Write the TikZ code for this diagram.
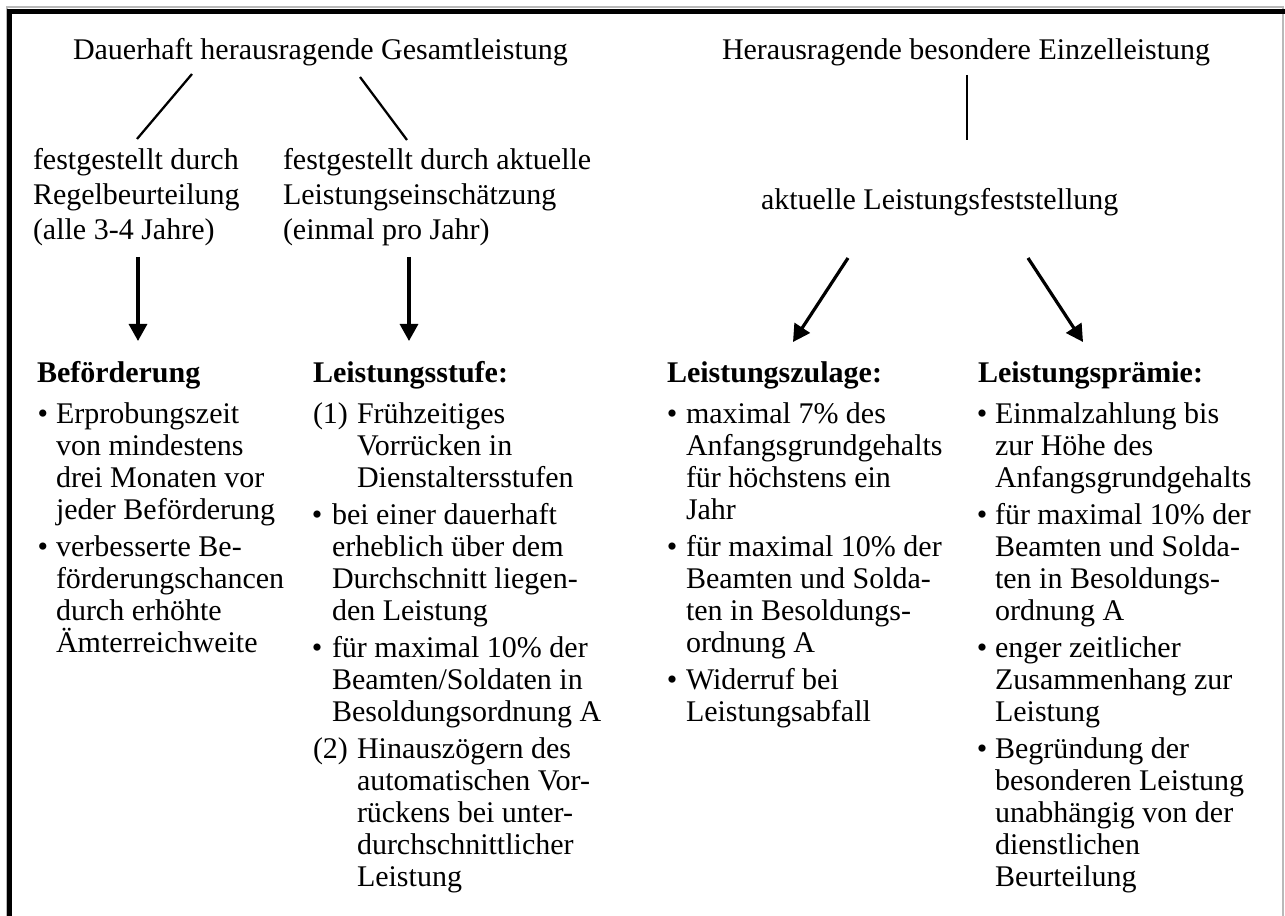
\documentclass[tikz,border=0pt]{standalone}
\usepackage{fontspec}
\setmainfont{Liberation Serif}
\usepackage{varwidth}
\usetikzlibrary{arrows.meta}
\newcommand\bodyf{\fontsize{22.5}{24}\selectfont}
\newcommand\topf{\fontsize{22.5}{26.25}\selectfont}
\newcommand\lns[1]{\begin{varwidth}[t]{20cm}\lineskiplimit=-40pt\raggedright #1\end{varwidth}}
\tikzset{
  body/.style={anchor=base west, inner sep=0pt, outer sep=0pt, font=\bodyf},
  head/.style={anchor=base west, inner sep=0pt, outer sep=0pt, font=\bodyf\bfseries},
  bul/.style={anchor=base, inner sep=0pt, outer sep=0pt, font=\bodyf},
  toptxt/.style={anchor=base west, inner sep=0pt, outer sep=0pt, font=\topf},
  ln/.style={line width=1.7pt},
  arr/.style={line width=2.4pt, -{Triangle[width=13.5pt,length=12.75pt]}},
}
\begin{document}
\begin{tikzpicture}[x=0.75pt,y=-0.75pt]
\useasboundingbox (0,0) rectangle (1285,916);
% frame
\draw[gray!55, line width=0.8pt] (7,916) -- (7,7) -- (1283,7) -- (1283,916);
\draw[black, line width=3.5pt] (9.5,916) -- (9.5,11.5) -- (1285,11.5);

% top texts
\node[toptxt] (t1) at (73,60) {Dauerhaft herausragende Gesamtleistung};
\node[toptxt] (t2) at (722,60) {Herausragende besondere Einzelleistung};
\node[toptxt] (f1) at (33,170) {\lns{festgestellt durch\\Regelbeurteilung\\(alle 3-4 Jahre)}};
\node[toptxt] (f2) at (283,170) {\lns{festgestellt durch aktuelle\\Leistungseinschätzung\\(einmal pro Jahr)}};
\node[toptxt] (f3) at (761,210) {aktuelle Leistungsfeststellung};

% connector end points
\coordinate (l1a) at (192,74);  \coordinate (l1b) at (137,139);
\coordinate (l2a) at (360,77);  \coordinate (l2b) at (407,140);
\coordinate (l3a) at (967,75);  \coordinate (l3b) at (967,140);
\coordinate (a1a) at (138,257); \coordinate (a1b) at (138,341);
\coordinate (a2a) at (409,257); \coordinate (a2b) at (409,341);
\coordinate (a3a) at (848,258); \coordinate (a3b) at (793,342);
\coordinate (a4a) at (1028,258); \coordinate (a4b) at (1083,342);

\draw[ln] (l1a) -- (l1b);
\draw[ln] (l2a) -- (l2b);
\draw[ln] (l3a) -- (l3b);
\draw[arr] (a1a) -- (a1b);
\draw[arr] (a2a) -- (a2b);
\draw[arr] (a3a) -- (a3b);
\draw[arr] (a4a) -- (a4b);

% headings
\node[head] (h1) at (37,382) {Beförderung};
\node[head] (h2) at (313,382) {Leistungsstufe:};
\node[head] (h3) at (667,382) {Leistungszulage:};
\node[head] (h4) at (978,382) {Leistungsprämie:};

% column 1
\node[bul] (b11) at (43,423) {•};
\node[body] (c11) at (56,423) {\lns{Erprobungszeit\\von mindestens\\drei Monaten vor\\jeder Beförderung}};
\node[bul] (b12) at (43,556) {•};
\node[body] (c12) at (56,556) {\lns{verbesserte Be-\\förderungschancen\\durch erhöhte\\Ämterreichweite}};

% column 2
\node[body] (n21) at (313,423) {(1)};
\node[body] (c21) at (357,423) {\lns{Frühzeitiges\\Vorrücken in\\Dienstaltersstufen}};
\node[bul] (b22) at (317,524) {•};
\node[body] (c22) at (332,524) {\lns{bei einer dauerhaft\\erheblich über dem\\Durchschnitt liegen-\\den Leistung}};
\node[bul] (b23) at (317,657) {•};
\node[body] (c23) at (332,657) {\lns{für maximal 10\% der\\Beamten/Soldaten in\\Besoldungsordnung A}};
\node[body] (n24) at (313,758) {(2)};
\node[body] (c24) at (357,758) {\lns{Hinauszögern des\\automatischen Vor-\\rückens bei unter-\\durchschnittlicher\\Leistung}};

% column 3
\node[bul] (b31) at (672,423) {•};
\node[body] (c31) at (686,423) {\lns{maximal 7\% des\\Anfangsgrundgehalts\\für höchstens ein\\Jahr}};
\node[bul] (b32) at (672,556) {•};
\node[body] (c32) at (686,556) {\lns{für maximal 10\% der\\Beamten und Solda-\\ten in Besoldungs-\\ordnung A}};
\node[bul] (b33) at (672,689) {•};
\node[body] (c33) at (686,689) {\lns{Widerruf bei\\Leistungsabfall}};

% column 4
\node[bul] (b41) at (982,423) {•};
\node[body] (c41) at (995,423) {\lns{Einmalzahlung bis\\zur Höhe des\\Anfangsgrundgehalts}};
\node[bul] (b42) at (982,524) {•};
\node[body] (c42) at (995,524) {\lns{für maximal 10\% der\\Beamten und Solda-\\ten in Besoldungs-\\ordnung A}};
\node[bul] (b43) at (982,657) {•};
\node[body] (c43) at (995,657) {\lns{enger zeitlicher\\Zusammenhang zur\\Leistung}};
\node[bul] (b44) at (982,758) {•};
\node[body] (c44) at (995,758) {\lns{Begründung der\\besonderen Leistung\\unabhängig von der\\dienstlichen\\Beurteilung}};
\end{tikzpicture}
\end{document}
